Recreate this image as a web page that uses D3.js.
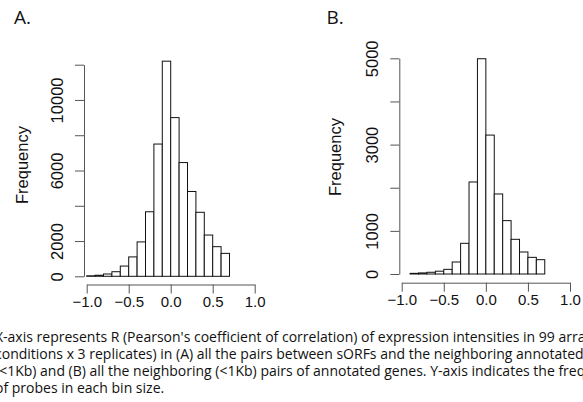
<!DOCTYPE html>
<html>
<head>
<meta charset="utf-8">
<script src="https://cdn.jsdelivr.net/npm/d3@7"></script>
<style>
  body { margin: 0; background: #fff; }
  svg { display: block; }
</style>
</head>
<body>
<svg id="fig" width="583" height="402"></svg>
<script>
// bin left edges (width 0.1) and counts
var binsA = [-1.0, -0.9, -0.8, -0.7, -0.6, -0.5, -0.4, -0.3, -0.2, -0.1, 0.0, 0.1, 0.2, 0.3, 0.4, 0.5, 0.6];
var countsA = [30, 60, 130, 260, 580, 1100, 1950, 3660, 7500, 12200, 9000, 6450, 4810, 3630, 2340, 1680, 1300];

var binsB = [-0.9, -0.8, -0.7, -0.6, -0.5, -0.4, -0.3, -0.2, -0.1, 0.0, 0.1, 0.2, 0.3, 0.4, 0.5, 0.6];
var countsB = [15, 25, 40, 65, 108, 278, 711, 2133, 4990, 3220, 1855, 1237, 804, 510, 386, 332];

var xTicks = [-1.0, -0.5, 0.0, 0.5, 1.0];
var yTicksA = [0, 2000, 4000, 6000, 8000, 10000, 12000];
var yLabelsA = [0, 2000, 6000, 10000];
var yTicksB = [0, 1000, 2000, 3000, 4000, 5000];
var yLabelsB = [0, 1000, 3000, 5000];

var caption = [
  "X-axis represents R (Pearson's coefficient of correlation) of expression intensities in 99 arrays",
  "conditions x 3 replicates) in (A) all the pairs between sORFs and the neighboring annotated genes",
  "(<1Kb) and (B) all the neighboring (<1Kb) pairs of annotated genes. Y-axis indicates the frequency",
  "of probes in each bin size."
];

var svg = d3.select('#fig');
var binW = 0.1;
var axisCol = '#555';
var chartFont = '"Liberation Sans", Arial, sans-serif';
var capFont = '"Open Sans", "Noto Sans", sans-serif';

function drawPanel(opt) {
  var x = d3.scaleLinear().domain([-1, 1]).range([opt.x0, opt.x1]);
  var y = d3.scaleLinear().domain([0, opt.yMax]).range([opt.yBase, opt.yTop]);

  var g = svg.append('g');

  // bars
  g.selectAll('.bar')
    .data(opt.bins.map(function(b, i) { return {b: b, n: opt.counts[i]}; }))
    .enter()
    .append('rect')
    .attr('class', 'bar')
    .attr('x', function(d) { return x(d.b); })
    .attr('y', function(d) { return y(d.n); })
    .attr('width', function(d) { return x(d.b + binW) - x(d.b); })
    .attr('height', function(d) { return opt.yBase - y(d.n); })
    .attr('fill', '#fff')
    .attr('stroke', '#111')
    .attr('stroke-width', 1);

  // x axis
  var xa = g.append('g')
    .attr('transform', 'translate(0,' + opt.xAxisY + ')')
    .call(d3.axisBottom(x).tickValues(xTicks).tickSize(9).tickSizeOuter(0)
      .tickFormat(function(d) { return d3.format('.1f')(d).replace('-', '\u2212'); }));
  xa.select('.domain').attr('stroke', axisCol);
  xa.selectAll('.tick line').attr('stroke', axisCol);
  xa.selectAll('.tick text')
    .attr('y', 22).attr('dy', 0)
    .attr('fill', '#111')
    .style('font-family', chartFont)
    .style('font-size', '15px');

  // y axis, labels rotated as in R
  var ya = g.append('g')
    .attr('transform', 'translate(' + opt.yAxisX + ',0)')
    .call(d3.axisLeft(y).tickValues(opt.yTicks).tickSize(9).tickSizeOuter(0)
      .tickFormat(function(d) { return opt.yLabels.indexOf(d) >= 0 ? d : ''; }));
  ya.select('.domain').attr('stroke', axisCol);
  ya.selectAll('.tick line').attr('stroke', axisCol);
  ya.selectAll('.tick text')
    .attr('x', 0).attr('y', -21).attr('dy', 0)
    .attr('transform', 'rotate(-90)')
    .attr('text-anchor', 'middle')
    .attr('fill', '#111')
    .style('font-family', chartFont)
    .style('font-size', '16.5px');

  g.append('text')
    .attr('transform', 'translate(' + opt.freqX + ',' + opt.freqY + ') rotate(-90)')
    .attr('text-anchor', 'middle')
    .style('font-family', chartFont)
    .style('font-size', '16.5px')
    .attr('fill', '#111')
    .text('Frequency');

  g.append('text')
    .attr('x', opt.labX).attr('y', 24)
    .style('font-family', capFont)
    .style('font-size', '19px')
    .attr('fill', '#111')
    .text(opt.label);
}

drawPanel({
  bins: binsA, counts: countsA, yMax: 12000, yTicks: yTicksA, yLabels: yLabelsA,
  x0: 86.7, x1: 254.7, yBase: 276.3, yTop: 64.7, xAxisY: 284.5, yAxisX: 84,
  freqX: 28, freqY: 165, labX: 14, label: 'A.'
});

drawPanel({
  bins: binsB, counts: countsB, yMax: 5000, yTicks: yTicksB, yLabels: yLabelsB,
  x0: 401.7, x1: 570, yBase: 274, yTop: 58.3, xAxisY: 282.7, yAxisX: 399.3,
  freqX: 341, freqY: 157, labX: 326.5, label: 'B.'
});

// caption as one text block, lines in tspans
var cap = svg.append('text')
  .attr('x', -5)
  .attr('y', 342)
  .style('font-family', capFont)
  .style('font-size', '14px')
  .attr('fill', '#111');

cap.selectAll('tspan')
  .data(caption)
  .enter()
  .append('tspan')
  .attr('x', -5)
  .attr('dy', function(d, i) { return i === 0 ? 0 : 17; })
  .text(function(d) { return d; });
</script>
</body>
</html>
